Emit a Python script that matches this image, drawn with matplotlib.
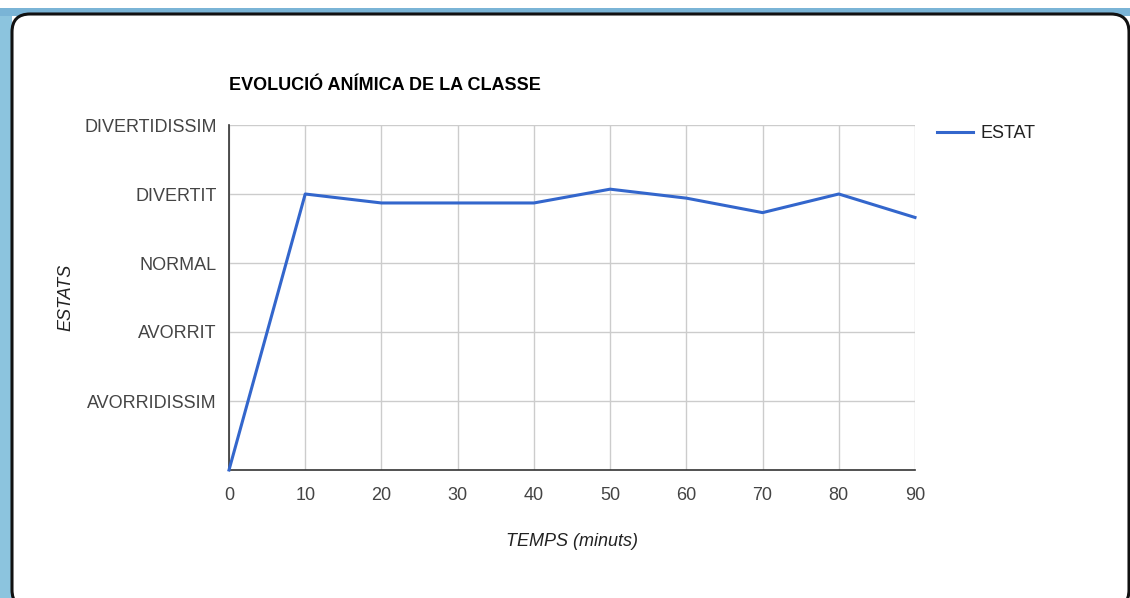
import matplotlib.pyplot as plt
from matplotlib.patches import FancyBboxPatch, Rectangle

plt.rcParams['font.family'] = ['Liberation Sans', 'DejaVu Sans']

minuts = [0, 10, 20, 30, 40, 50, 60, 70, 80, 90]
estat = [0, 4.0, 3.87, 3.87, 3.87, 4.07, 3.94, 3.73, 4.0, 3.66]
nivells = [1, 2, 3, 4, 5]
noms_nivells = ['AVORRIDISSIM', 'AVORRIT', 'NORMAL', 'DIVERTIT', 'DIVERTIDISSIM']

W, H = 1130, 598
fig = plt.figure(figsize=(W / 100, H / 100), dpi=100)

# fons blau de la finestra i targeta blanca amb vora arrodonida
fig.patches.append(Rectangle((0, 0), 12 / W, 1 - 8 / H, transform=fig.transFigure,
                             facecolor='#8cc4de', edgecolor='none', zorder=0))
fig.patches.append(Rectangle((0, 1 - 16 / H), 1, 8 / H, transform=fig.transFigure,
                             facecolor='#7ab4d6', edgecolor='none', zorder=0))
card = FancyBboxPatch((12 / W, -10 / H), (W - 1) / W - 12 / W, (H - 14 + 10) / H,
                      boxstyle='round,pad=0,rounding_size=0.016',
                      transform=fig.transFigure, facecolor='white',
                      edgecolor='#111111', linewidth=2.2, zorder=1,
                      mutation_aspect=W / H)
fig.patches.append(card)

ax = fig.add_axes([229 / W, (H - 470) / H, 686 / W, 345 / H])
ax.set_zorder(2)
ax.patch.set_alpha(0)

ax.plot(minuts, estat, color='#3366cc', lw=2.2, label='ESTAT', zorder=5,
        solid_joinstyle='round', clip_on=False)

ax.set_xlim(0, 90)
ax.set_ylim(0, 5)
ax.set_xticks(minuts)
ax.set_yticks(nivells)
ax.set_yticklabels(noms_nivells)
ax.grid(True, color='#cccccc', lw=1)
ax.tick_params(length=0, labelsize=13, labelcolor='#444444')
ax.tick_params(axis='y', pad=9)
ax.tick_params(axis='x', pad=12)

for s in ['top', 'right']:
    ax.spines[s].set_visible(False)
for s in ['left', 'bottom']:
    ax.spines[s].set_color('#333333')
    ax.spines[s].set_linewidth(1.2)

fig.text(572 / W, 1 - 541 / H, 'TEMPS (minuts)', fontsize=13, style='italic',
         color='#222222', ha='center', va='center')
fig.text(66 / W, 1 - 297 / H, 'ESTATS', fontsize=13, style='italic',
         color='#222222', ha='center', va='center', rotation=90)

fig.text(229 / W, 1 - 86 / H, 'EVOLUCIÓ ANÍMICA DE LA CLASSE', fontsize=13,
         fontweight='bold', color='#000000', va='center', ha='left')

ax.legend(loc='upper left', bbox_to_anchor=(1.021, 1.02), frameon=False,
          fontsize=13, handlelength=2.0, handletextpad=0.45,
          labelcolor='#222222', borderaxespad=0)

fig.savefig('out.png', dpi=100)
